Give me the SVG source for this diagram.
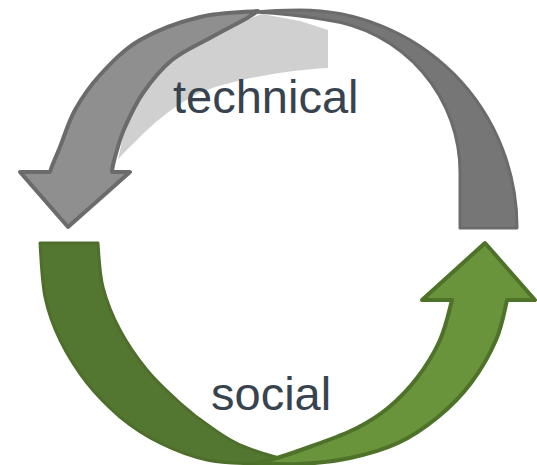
<svg xmlns="http://www.w3.org/2000/svg" width="537" height="465" viewBox="0 0 537 465">
  <style>
    .lbl { font-family: "Liberation Sans", Arial, sans-serif; font-size: 47px; fill: #37434e; }
    .gray-back { fill: #767676; stroke: #6b6b6b; stroke-width: 3; stroke-linejoin: round; }
    .gray-front { fill: #8f8f8f; stroke: #6b6b6b; stroke-width: 4; stroke-linejoin: round; }
    .green-back { fill: #537630; stroke: #4e6f2b; stroke-width: 3; stroke-linejoin: round; }
    .green-front { fill: #6a943c; stroke: #4e7229; stroke-width: 4; stroke-linejoin: round; }
    .shade { fill: #d0d0d0; }
  </style>
  <rect width="537" height="465" fill="#ffffff"/>
  <g id="node-technical">
    <path class="shade" d="M118,160 L125,127 L143,93 L172,60 L210,38 L240,22 L262,14 L300,21 L328,30 L328,68 C290,70 240,78 207,90 C180,100 155,122 140,137 C128,149 121,155 118,160 Z"/>
    <text class="lbl" x="173" y="113">technical</text>
  </g>
  <g id="node-social">
    <text class="lbl" x="211" y="410">social</text>
  </g>
  <g id="connectors">
    <path id="arrow-technical-back" class="gray-back" d="M460,228 L517,228 A217,217 0 0 0 300,10 Q275,10 255,12 Q292,14 327,20 A154,154 0 0 1 460,174 Z"/>
    <path id="arrow-technical" class="gray-front" d="M258,11 C241.3,12.2 219.7,12.2 200,17 C180.3,21.8 156.7,30.3 140,40 C123.3,49.7 110.8,63.3 100,75 C89.2,86.7 81.7,98 75,110 C68.3,122 64.2,136.7 60,147 C55.8,157.3 52.5,163.7 50,172 L20,172 L68,227 L130,172 L112,172 C112.5,164.2 114.8,157.5 117,150 C119.2,142.5 120.7,136.5 125,127 C129.3,117.5 135.2,104.2 143,93 C150.8,81.8 160.8,69.2 172,60 C183.2,50.8 198.7,44.3 210,38 C221.3,31.7 231.7,26.3 240,22 C248.3,17.7 252.5,14.7 258,11 Z"/>
    <path id="arrow-social-back" class="green-back" d="M40,243 L98,243 C99,255.3 99.3,272.5 103,287 C106.7,301.5 112.7,316.2 120,330 C127.3,343.8 137,357.8 147,370 C157,382.2 169.2,393.3 180,403 C190.8,412.7 201.2,420.7 212,428 C222.8,435.3 230.3,441.2 245,447 C259.7,452.8 285.8,459.8 300,463 C288.3,463.5 275.5,464.5 260,464 C244.5,463.5 223.7,463.5 207,460 C190.3,456.5 174.5,450.2 160,443 C145.5,435.8 132.2,427 120,417 C107.8,406.3 97,395.8 87,383 C77,370.2 67,354.3 60,340 C53,325.7 48.3,313.2 45,297 C41.7,280.8 41,257 40,243 Z"/>
    <path id="arrow-social" class="green-front" d="M452,300 L422,300 L485,243 L535,300 L507,300 C504.3,311.7 502,326.2 496,340 C490,353.8 480.7,370.2 471,383 C461.3,395.8 450.2,407 438,417 C425.8,427 412.7,436.2 398,443 C383.3,449.8 366.3,454.5 350,458 C333.7,461.5 315.3,463.2 300,464 C284.7,464.8 269.7,463.7 258,463 C264.2,461.7 268,460.8 277,458 C286,455.2 299,450.8 312,446 C325,441.2 342.3,435.3 355,429 C367.7,422.7 377.7,416.5 388,408 C398.3,399.5 408.3,389.3 417,378 C425.7,366.7 434.2,353 440,340 C445.8,327 449,311.7 452,300 Z"/>
  </g>
</svg>
